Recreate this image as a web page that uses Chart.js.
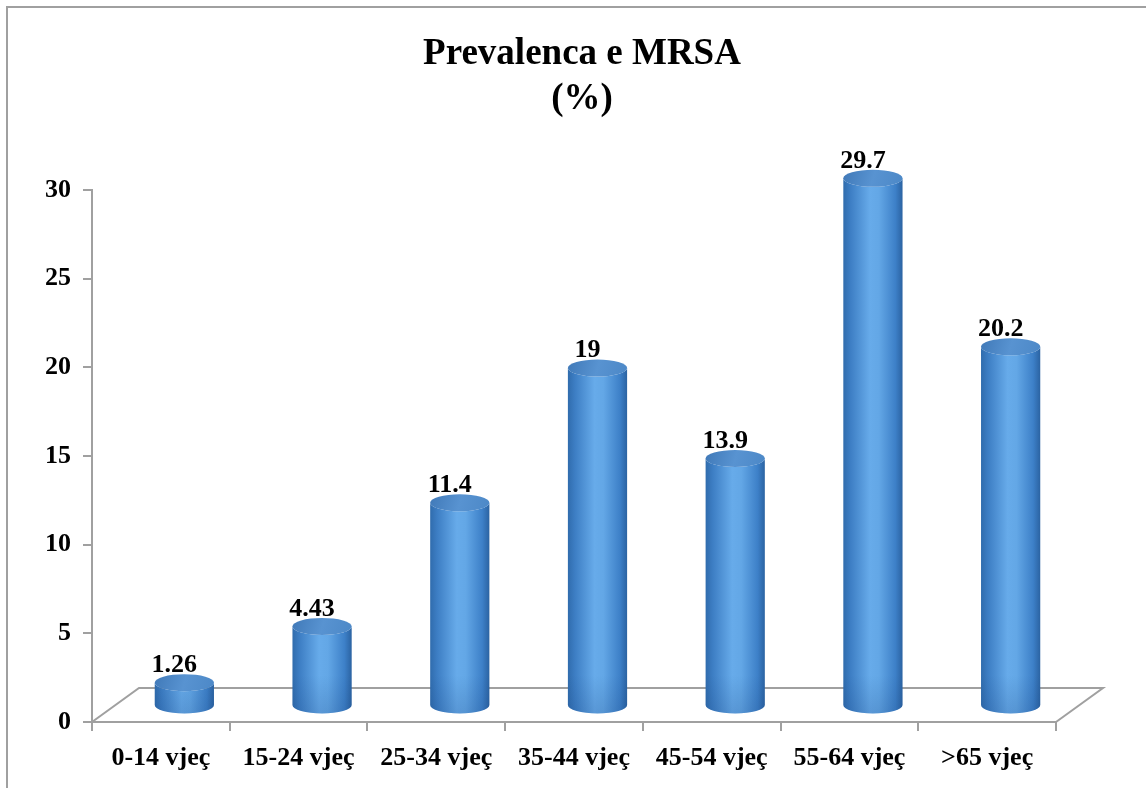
<!DOCTYPE html>
<html>
<head>
<meta charset="utf-8">
<title>Prevalenca e MRSA</title>
<script src="https://cdn.jsdelivr.net/npm/chart.js@4/dist/chart.umd.min.js"></script>
<style>
  html, body { margin: 0; padding: 0; background: #ffffff; }
  #wrap { width: 1146px; height: 788px; }
</style>
</head>
<body>
<div id="wrap"><canvas id="c" width="1146" height="788"></canvas></div>
<script>
// Age groups and MRSA prevalence (%)
const categories = ['0-14 vjeç', '15-24 vjeç', '25-34 vjeç', '35-44 vjeç', '45-54 vjeç', '55-64 vjeç', '>65 vjeç'];
const prevalence = [1.26, 4.43, 11.4, 19, 13.9, 29.7, 20.2];
const titleLines = ['Prevalenca e MRSA', '(%)'];
const yTicks = [0, 5, 10, 15, 20, 25, 30];

const SERIF = "'Liberation Serif', 'Times New Roman', serif";
const AXIS = '#a0a0a0';

// depth of the 3D floor (pixels to the back-right)
const DEPTH_X = 47, DEPTH_Y = -34;

// White page with a thin gray frame on the left and top
const framePlugin = {
  id: 'frame',
  beforeDraw(chart) {
    const ctx = chart.ctx;
    ctx.save();
    ctx.fillStyle = '#ffffff';
    ctx.fillRect(0, 0, chart.width, chart.height);
    ctx.strokeStyle = AXIS;
    ctx.lineWidth = 2;
    ctx.beginPath();
    ctx.moveTo(7, chart.height);
    ctx.lineTo(7, 7);
    ctx.lineTo(chart.width, 7);
    ctx.stroke();
    ctx.restore();
  }
};

// Two-line title
const titlePlugin = {
  id: 'twoLineTitle',
  afterDraw(chart) {
    const ctx = chart.ctx;
    ctx.save();
    ctx.fillStyle = '#000000';
    ctx.font = 'bold 37px ' + SERIF;
    ctx.textAlign = 'center';
    ctx.textBaseline = 'middle';
    const cx = (chart.chartArea.left + chart.chartArea.right) / 2 + 8;
    titleLines.forEach((t, i) => ctx.fillText(t, cx, 54 + i * 45));
    ctx.restore();
  }
};

// Floor parallelogram and cylinders drawn from the bar elements
const cylinderPlugin = {
  id: 'cylinders',
  beforeDatasetsDraw(chart) {
    const ctx = chart.ctx;
    const a = chart.chartArea;
    const y0 = chart.scales.y.getPixelForValue(0);
    ctx.save();
    ctx.strokeStyle = AXIS;
    ctx.lineWidth = 2;
    ctx.beginPath();
    ctx.moveTo(a.left, y0);
    ctx.lineTo(a.left + DEPTH_X, y0 + DEPTH_Y);
    ctx.lineTo(a.right + DEPTH_X, y0 + DEPTH_Y);
    ctx.lineTo(a.right, y0);
    ctx.stroke();
    ctx.restore();
  },
  afterDatasetsDraw(chart) {
    const ctx = chart.ctx;
    const meta = chart.getDatasetMeta(0);
    const yScale = chart.scales.y;
    const values = chart.data.datasets[0].data;
    const y0 = yScale.getPixelForValue(0);
    meta.data.forEach((bar, i) => {
      const rx = bar.width / 2;
      const ry = 8.5;
      const cx = bar.x + DEPTH_X / 2;
      const by = y0 + DEPTH_Y / 2;
      const ty = bar.y + DEPTH_Y / 2;

      ctx.save();
      // body
      const g = ctx.createLinearGradient(cx - rx, 0, cx + rx, 0);
      g.addColorStop(0, '#306cad');
      g.addColorStop(0.12, '#3d7ec4');
      g.addColorStop(0.45, '#67abea');
      g.addColorStop(0.6, '#63a7e6');
      g.addColorStop(0.88, '#3d80c8');
      g.addColorStop(1, '#2b63a2');
      ctx.beginPath();
      ctx.moveTo(cx - rx, ty);
      ctx.lineTo(cx - rx, by);
      ctx.ellipse(cx, by, rx, ry, 0, Math.PI, 0, true);
      ctx.lineTo(cx + rx, ty);
      ctx.ellipse(cx, ty, rx, ry, 0, 0, Math.PI, false);
      ctx.closePath();
      ctx.fillStyle = g;
      ctx.fill();

      // slight darkening toward the base
      const shade = ctx.createLinearGradient(0, by - 30, 0, by + ry);
      shade.addColorStop(0, 'rgba(20,60,120,0)');
      shade.addColorStop(1, 'rgba(20,60,120,0.18)');
      ctx.fillStyle = shade;
      ctx.fill();

      // top cap
      const gc = ctx.createLinearGradient(cx - rx, ty - ry, cx + rx, ty + ry);
      gc.addColorStop(0, '#4079b8');
      gc.addColorStop(0.5, '#5893d1');
      gc.addColorStop(1, '#4c88c7');
      ctx.beginPath();
      ctx.ellipse(cx, ty, rx, ry, 0, 0, Math.PI * 2);
      ctx.fillStyle = gc;
      ctx.fill();
      ctx.restore();

      // value label
      ctx.save();
      ctx.fillStyle = '#000000';
      ctx.font = 'bold 26px ' + SERIF;
      ctx.textAlign = 'center';
      ctx.textBaseline = 'middle';
      ctx.fillText(String(values[i]), cx - 10, ty - ry - 9);
      ctx.restore();
    });
  }
};

new Chart(document.getElementById('c'), {
  type: 'bar',
  data: {
    labels: categories,
    datasets: [{
      data: prevalence,
      backgroundColor: 'rgba(0,0,0,0)',
      borderWidth: 0,
      categoryPercentage: 1,
      barPercentage: 0.43
    }]
  },
  options: {
    responsive: false,
    animation: false,
    devicePixelRatio: 1,
    layout: { padding: { top: 190, right: 90, bottom: 0, left: 0 } },
    plugins: {
      legend: { display: false },
      title: { display: false },
      tooltip: { enabled: false }
    },
    scales: {
      x: {
        offset: true,
        grid: {
          display: true,
          offset: true,
          drawOnChartArea: false,
          drawTicks: true,
          tickLength: 9,
          color: AXIS,
          lineWidth: 2
        },
        border: { display: true, color: AXIS, width: 2 },
        ticks: {
          color: '#000000',
          font: { family: SERIF, size: 26, weight: 'bold' },
          padding: 12,
          maxRotation: 0,
          autoSkip: false
        },
        afterFit(scale) { scale.height = 66; }
      },
      y: {
        min: 0,
        max: 30,
        afterBuildTicks(scale) { scale.ticks = yTicks.map(v => ({ value: v })); },
        grid: {
          display: true,
          drawOnChartArea: false,
          drawTicks: true,
          tickLength: 9,
          color: AXIS,
          lineWidth: 2
        },
        border: { display: true, color: AXIS, width: 2 },
        ticks: {
          color: '#000000',
          font: { family: SERIF, size: 26, weight: 'bold' },
          padding: 12
        },
        afterFit(scale) { scale.width = 92; }
      }
    }
  },
  plugins: [framePlugin, cylinderPlugin, titlePlugin]
});
</script>
</body>
</html>
